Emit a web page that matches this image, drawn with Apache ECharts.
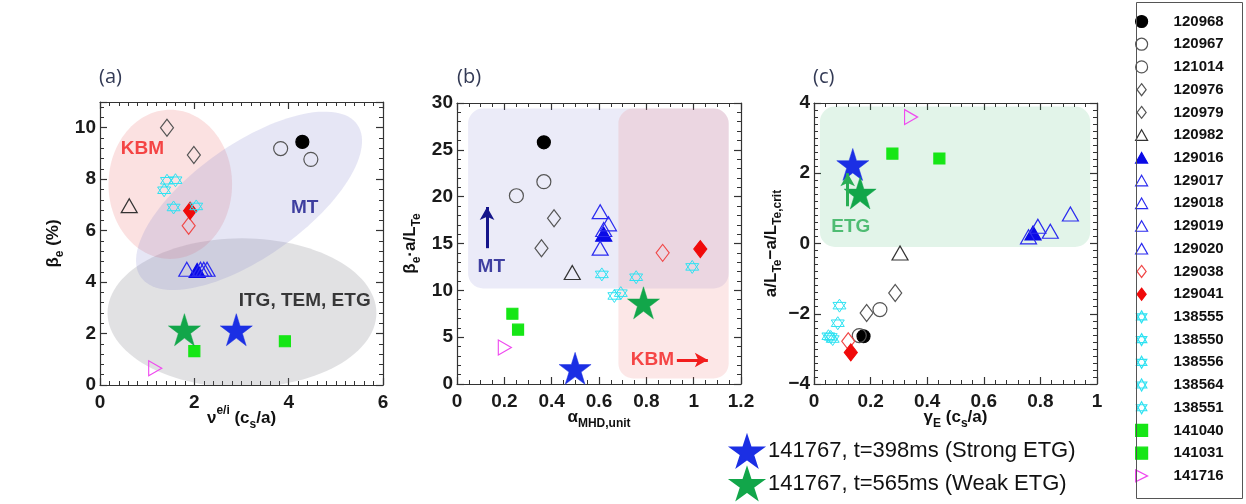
<!DOCTYPE html>
<html>
<head>
<meta charset="utf-8">
<script src="https://cdn.jsdelivr.net/npm/echarts@6/dist/echarts.min.js"></script>
<style>
html, body { margin: 0; padding: 0; background: #fff; }
#chart { width: 1246px; height: 504px; }
</style>
</head>
<body>
<div id="chart"></div>
<script>
// ---- data ----
const shots = ['120968', '120967', '121014', '120976', '120979', '120982',
  '129016', '129017', '129018', '129019', '129020', '129038', '129041',
  '138555', '138550', '138556', '138564', '138551', '141040', '141031', '141716'];
const starNames = ['141767, t=398ms (Strong ETG)', '141767, t=565ms (Weak ETG)'];
const allNames = shots.concat(starNames);

// panel (a): collisionality vs electron beta
const nuEI = [4.29, 3.83, 4.47, 1.42, 1.99, 0.62, 2.06, 1.84, 2.13, 2.20, 2.27, 1.88, 1.91,
  1.42, 1.60, 1.36, 1.56, 2.04, 2.00, 3.92, 1.17, 2.89, 1.79];
const betaE = [9.45, 9.19, 8.77, 10.0, 8.94, 6.97, 4.45, 4.50, 4.50, 4.50, 4.50, 6.19, 6.77,
  7.94, 7.96, 7.57, 6.90, 6.94, 1.32, 1.70, 0.65, 2.15, 2.15];

// panel (b): alpha_MHD vs beta_e * a/L_Te
const alphaMHD = [0.367, 0.251, 0.367, 0.41, 0.357, 0.487, 0.62, 0.605, 0.64, 0.62, 0.605, 0.869, 1.028,
  0.612, 0.757, 0.994, 0.665, 0.692, 0.234, 0.258, 0.202, 0.499, 0.788];
const betaGradTe = [25.8, 20.1, 21.6, 17.7, 14.5, 11.9, 16.0, 18.4, 17.1, 16.5, 14.5, 14.0, 14.4,
  11.7, 11.4, 12.5, 9.4, 9.7, 7.5, 5.8, 3.9, 1.67, 8.67];

// panel (c): ExB shear vs distance above ETG threshold
const gammaE = [0.175, 0.233, 0.160, 0.287, 0.186, 0.304, 0.774, 0.906, 0.835, 0.791, 0.758, 0.121, 0.130,
  0.090, 0.084, 0.051, 0.066, 0.059, 0.277, 0.443, 0.343, 0.137, 0.163];
const gradExcess = [-2.64, -1.88, -2.62, -1.41, -1.98, -0.27, 0.30, 0.84, 0.35, 0.49, 0.19, -2.78, -3.10,
  -1.77, -2.27, -2.64, -2.72, -2.66, 2.56, 2.42, 3.60, 2.25, 1.44];

// tick range settings per panel
const xTicksA = { min: 0, max: 6, interval: 2, minor: 10 };
const yTicksA = { min: 0, max: 11, interval: 2, minor: 5 };
const xTicksB = { min: 0, max: 1.2, interval: 0.2, minor: 4 };
const yTicksB = { min: 0, max: 30, interval: 5, minor: 5 };
const xTicksC = { min: 0, max: 1, interval: 0.2, minor: 5 };
const yTicksC = { min: -4, max: 4, interval: 2, minor: 10 };

// ---- styling ----
const FONT = '"Liberation Sans", Arial, Helvetica, sans-serif';
const NONE = 'rgba(0,0,0,0)';
const HEX = 'path://M50,0 L93.3,75 L6.7,75 Z M50,100 L6.7,25 L93.3,25 Z';
const STAR = 'path://M50,2 L61.2,36.5 L97.6,36.5 L68.2,57.9 L79.4,92.5 L50,71.1 L20.6,92.5 L31.8,57.9 L2.4,36.5 L38.8,36.5 Z';
const RTRI = 'path://M0,0 L100,50 L0,100 Z';
const DIAM = 'path://M38,0 L76,50 L38,100 L0,50 Z';
const TRI = 'path://M50,0 L100,88 L0,88 Z';
const SQR = 'path://M0,0 L100,0 L100,100 L0,100 Z';

function mk(symbol, size, fill, stroke, width) {
  return { symbol, size, fill, stroke, width: width || 1.2 };
}
const markStyles = {
  '120968': mk('circle', 13, '#000', '#000'),
  '120967': mk('circle', 14, NONE, '#555'),
  '121014': mk('circle', 14, NONE, '#555'),
  '120976': mk(DIAM, [13, 17], NONE, '#555'),
  '120979': mk(DIAM, [13, 17], NONE, '#555'),
  '120982': mk(TRI, [16, 14], NONE, '#333'),
  '129016': mk(TRI, [16, 14], '#0a0ae6', '#0a0ae6'),
  '129017': mk(TRI, [16, 14], NONE, '#2b2bef'),
  '129018': mk(TRI, [16, 14], NONE, '#2b2bef'),
  '129019': mk(TRI, [16, 14], NONE, '#2b2bef'),
  '129020': mk(TRI, [16, 14], NONE, '#2b2bef'),
  '129038': mk(DIAM, [13, 17], NONE, '#f04848'),
  '129041': mk(DIAM, [13, 17], '#f00a0a', '#f00a0a'),
  '138555': mk(HEX, 13, NONE, '#2ee2f2', 1),
  '138550': mk(HEX, 13, NONE, '#2ee2f2', 1),
  '138556': mk(HEX, 13, NONE, '#2ee2f2', 1),
  '138564': mk(HEX, 13, NONE, '#2ee2f2', 1),
  '138551': mk(HEX, 13, NONE, '#2ee2f2', 1),
  '141040': mk(SQR, 11, '#16e616', '#16e616'),
  '141031': mk(SQR, 11, '#16e616', '#16e616'),
  '141716': mk(RTRI, [13, 15], NONE, '#ef4aef'),
  [starNames[0]]: mk(STAR, 32, '#1b2fe4', '#1b2fe4', 0.5),
  [starNames[1]]: mk(STAR, 32, '#12a64a', '#12a64a', 0.5)
};

// shaded regime regions (data coordinates)
const mtEllipseA  = { cx: 3.16, cy: 7.16, ux: 2.30, uy: 2.95, vx: 0.67, vy: -1.82 };
const kbmEllipseA = { cx: 1.49, cy: 7.80, ux: 1.31, uy: 0, vx: 0, vy: 2.90 };
const itgEllipseA = { cx: 3.01, cy: 2.80, ux: 2.85, uy: 0, vx: 0, vy: 2.90 };
const mtBoxB  = { x0: 0.047, x1: 1.148, y0: 10.2, y1: 29.4 };
const kbmBoxB = { x0: 0.682, x1: 1.148, y0: 0.6, y1: 29.4 };
const etgBoxC = { x0: 0.021, x1: 0.976, y0: -0.1, y1: 3.9 };

const panels = [
  { grid: { left: 100, top: 102, width: 283, height: 283 }, xt: xTicksA, yt: yTicksA, xs: nuEI, ys: betaE,
    xName: '{b|ν}{sup|e/i}{b| (c}{sub|s}{b|/a)}', yName: '{b|β}{sub|e}{b| (%)}', xGap: 20, yGap: 34 },
  { grid: { left: 457, top: 103, width: 284, height: 281 }, xt: xTicksB, yt: yTicksB, xs: alphaMHD, ys: betaGradTe,
    xName: '{b|α}{sub|MHD,unit}', yName: '{b|β}{sub|e}{b|·a/L}{sub|Te}', xGap: 20, yGap: 34 },
  { grid: { left: 814, top: 103, width: 283, height: 281 }, xt: xTicksC, yt: yTicksC, xs: gammaE, ys: gradExcess,
    xName: '{b|γ}{sub|E}{b| (c}{sub|s}{b|/a)}', yName: '{b|a/L}{sub|Te}{b|−a/L}{sub|Te,crit}', xGap: 20, yGap: 30 }
];

const nameRich = {
  b:   { fontSize: 17, fontWeight: 'bold', color: '#111', fontFamily: FONT, lineHeight: 26 },
  sub: { fontSize: 12, fontWeight: 'bold', color: '#111', fontFamily: FONT, lineHeight: 13, verticalAlign: 'bottom' },
  sup: { fontSize: 12, fontWeight: 'bold', color: '#111', fontFamily: FONT, lineHeight: 13, verticalAlign: 'top' }
};

function makeAxis(t, gridIndex, position, withLabels, extra) {
  return Object.assign({
    type: 'value', gridIndex, position,
    min: t.min, max: t.max, interval: t.interval,
    axisLine: { show: true, onZero: false, lineStyle: { color: '#333', width: 1.2 } },
    axisTick: { show: true, inside: true, length: 7, lineStyle: { color: '#333', width: 1.2 } },
    minorTick: { show: true, splitNumber: t.minor, length: 4, lineStyle: { color: '#333', width: 1 } },
    splitLine: { show: false },
    minorSplitLine: { show: false },
    axisLabel: {
      show: withLabels, fontSize: 19, fontWeight: 'bold', color: '#1a1a1a', fontFamily: FONT,
      formatter: v => String(v).replace('-', '−')
    }
  }, extra || {});
}

const grids = [], xAxes = [], yAxes = [];
panels.forEach((p, i) => {
  grids.push(Object.assign({ containLabel: false }, p.grid));
  xAxes.push(makeAxis(p.xt, i, 'bottom', true, {
    name: p.xName, nameLocation: 'middle', nameGap: p.xGap, nameMoveOverlap: false,
    nameTextStyle: { rich: nameRich }
  }));
  xAxes[xAxes.length - 1].axisLabel.margin = 8;
  xAxes.push(makeAxis(p.xt, i, 'top', false));
  const yExtra = {
    name: p.yName, nameLocation: 'middle', nameGap: p.yGap, nameRotate: 90, nameMoveOverlap: false,
    nameTextStyle: { rich: nameRich }
  };
  yAxes.push(makeAxis(p.yt, i, 'left', true, yExtra));
  yAxes[yAxes.length - 1].axisLabel.margin = 4;
  if (i === 0) yAxes[yAxes.length - 1].axisLabel.showMaxLabel = false;
  yAxes.push(makeAxis(p.yt, i, 'right', false));
});

const series = [];

function ellipseSeries(pi, e, fill) {
  return {
    type: 'custom', xAxisIndex: 2 * pi, yAxisIndex: 2 * pi, clip: true, silent: true, z: 1,
    data: [[e.cx, e.cy]],
    renderItem: (params, api) => {
      const pts = [];
      for (let k = 0; k < 120; k++) {
        const t = k / 120 * 2 * Math.PI;
        pts.push(api.coord([e.cx + e.ux * Math.cos(t) + e.vx * Math.sin(t),
                            e.cy + e.uy * Math.cos(t) + e.vy * Math.sin(t)]));
      }
      return { type: 'polygon', shape: { points: pts }, style: { fill } };
    }
  };
}
function boxSeries(pi, r, fill) {
  return {
    type: 'custom', xAxisIndex: 2 * pi, yAxisIndex: 2 * pi, clip: true, silent: true, z: 1,
    data: [[(r.x0 + r.x1) / 2, (r.y0 + r.y1) / 2]],
    renderItem: (params, api) => {
      const a = api.coord([r.x0, r.y1]);
      const b = api.coord([r.x1, r.y0]);
      return { type: 'rect', shape: { x: a[0], y: a[1], width: b[0] - a[0], height: b[1] - a[1], r: 15 }, style: { fill } };
    }
  };
}

series.push(ellipseSeries(0, itgEllipseA, 'rgba(120,120,128,0.22)'));
series.push(ellipseSeries(0, kbmEllipseA, 'rgba(238,120,120,0.22)'));
series.push(ellipseSeries(0, mtEllipseA, 'rgba(128,128,205,0.20)'));
series.push(boxSeries(1, mtBoxB, 'rgba(120,120,210,0.15)'));
series.push(boxSeries(1, kbmBoxB, 'rgba(240,110,110,0.17)'));
series.push(boxSeries(2, etgBoxC, 'rgba(60,180,110,0.15)'));

// measured points, one series per shot per panel
panels.forEach((p, pi) => {
  allNames.forEach((name, k) => {
    const s = markStyles[name];
    series.push({
      type: 'scatter', name, xAxisIndex: 2 * pi, yAxisIndex: 2 * pi, z: 3,
      symbol: s.symbol, symbolSize: s.size, symbolKeepAspect: false,
      itemStyle: { color: s.fill, borderColor: s.stroke, borderWidth: s.width, opacity: 1 },
      emphasis: { disabled: true },
      data: [[p.xs[k], p.ys[k]]]
    });
  });
});

// regime annotations
function noteSeries(pi, notes, arrows) {
  return {
    type: 'scatter', xAxisIndex: 2 * pi, yAxisIndex: 2 * pi, z: 4, silent: true,
    symbol: 'circle', symbolSize: 0,
    label: {
      show: true, position: [0, 0], align: 'center', verticalAlign: 'middle', formatter: '{b}',
      fontSize: 19, fontWeight: 'bold', fontFamily: FONT, textBorderWidth: 0
    },
    data: notes.map(n => ({ name: n.text, value: [n.x, n.y], label: { color: n.color } })),
    markLine: {
      silent: true, animation: false, symbol: ['none', 'arrow'], symbolSize: [11, 13],
      label: { show: false },
      data: arrows.map(a => [
        { coord: [a.x0, a.y0], lineStyle: { color: a.color, width: 3, type: 'solid' } },
        { coord: [a.x1, a.y1] }
      ])
    }
  };
}
series.push(noteSeries(0, [
  { text: 'KBM', x: 0.90, y: 9.2, color: '#f21d1d' },
  { text: 'MT', x: 4.34, y: 6.88, color: '#14148a' },
  { text: 'ITG, TEM, ETG', x: 4.34, y: 3.29, color: '#0d0d0d' }
], []));
series.push(noteSeries(1, [
  { text: 'MT', x: 0.145, y: 12.5, color: '#14148a' },
  { text: 'KBM', x: 0.826, y: 2.56, color: '#f21d1d' }
], [
  { x0: 0.127, y0: 14.5, x1: 0.127, y1: 18.9, color: '#14148a' },
  { x0: 0.929, y0: 2.56, x1: 1.06, y1: 2.56, color: '#f21d1d' }
]));
series.push(noteSeries(2, [
  { text: 'ETG', x: 0.13, y: 0.49, color: '#2aae55' }
], [
  { x0: 0.119, y0: 1.06, x1: 0.119, y1: 2.0, color: '#2aae55' }
]));

const panelTitle = { fontSize: 20, fontWeight: 'normal', color: '#333a55', fontFamily: '"Open Sans", sans-serif' };

const option = {
  animation: false,
  backgroundColor: '#fff',
  title: [
    { text: '(a)', left: 99, top: 67, padding: 0, textStyle: panelTitle },
    { text: '(b)', left: 457, top: 67, padding: 0, textStyle: panelTitle },
    { text: '(c)', left: 813, top: 67, padding: 0, textStyle: panelTitle }
  ],
  grid: grids,
  xAxis: xAxes,
  yAxis: yAxes,
  legend: [
    {
      orient: 'vertical', left: 1135, top: 14, itemWidth: 12, itemHeight: 12, itemGap: 7.72, padding: 0,
      selectedMode: false, data: shots,
      itemStyle: { borderWidth: 1.2 },
      textStyle: { fontSize: 15, fontWeight: 'bold', color: '#111', fontFamily: FONT, padding: [0, 0, 0, 21] }
    },
    {
      orient: 'vertical', left: 730, top: 435, itemWidth: 32, itemHeight: 32, itemGap: 0, padding: 0,
      selectedMode: false, data: starNames,
      textStyle: { fontSize: 22, color: '#111', fontFamily: FONT }
    }
  ],
  graphic: [
    { type: 'rect', left: 1136, top: 2, shape: { width: 106, height: 496 }, style: { fill: NONE, stroke: '#555', lineWidth: 1 }, z: 10 }
  ],
  series
};

const chart = echarts.init(document.getElementById('chart'), null, { renderer: 'canvas' });
chart.setOption(option);
</script>
</body>
</html>
